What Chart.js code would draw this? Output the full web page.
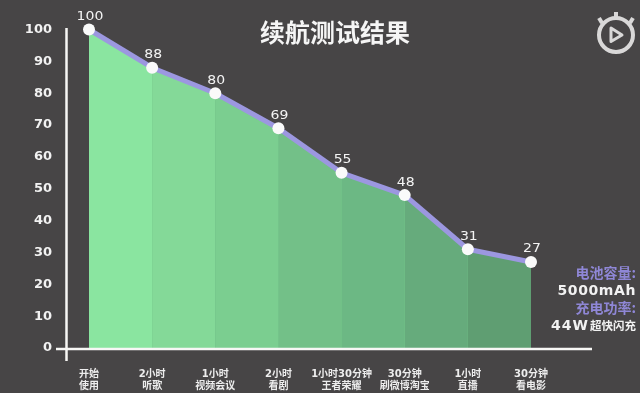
<!DOCTYPE html>
<html>
<head>
<meta charset="utf-8">
<style>html,body{margin:0;padding:0;background:#474546}canvas{display:block}</style>
<script src="https://cdn.jsdelivr.net/npm/chart.js@4"></script>
</head>
<body>
<canvas id="c" width="640" height="393"></canvas>
<script>
const titleText = '续航测试结果';
const categories = [['开始','使用'],['2小时','听歌'],['1小时','视频会议'],['2小时','看剧'],['1小时30分钟','王者荣耀'],['30分钟','刷微博淘宝'],['1小时','直播'],['30分钟','看电影']];
const batteryPercent = [100,88,80,69,55,48,31,27];
const segmentColors = ['#8AE5A0','#84D998','#7BCE90','#73C088','#6CB884','#66AB7C','#5F9E72','#5A9569'];
const BG='#474546', AXIS='#F7F7F5', PURPLE='#9C97E0', NOTE='#8F87D6', NOTE2='#F2F2F2';
const WIDE='"DejaVu Sans","Noto Sans CJK SC",sans-serif';
const CJK='"Noto Sans CJK SC",sans-serif';

const decor = {
  id:'decor',
  beforeDraw(chart){
    const {ctx,width,height}=chart;
    ctx.save();ctx.fillStyle=BG;ctx.fillRect(0,0,width,height);ctx.restore();
  },
  afterDatasetsDraw(chart){
    const {ctx,scales:{x,y}}=chart;
    ctx.save();
    ctx.strokeStyle=AXIS;ctx.lineWidth=2.5;
    const y0=y.getPixelForValue(0), x0=x.getPixelForTick(0);
    ctx.beginPath();ctx.moveTo(x0-22.5,y.getPixelForValue(100)-1.5);ctx.lineTo(x0-22.5,y0+13);ctx.stroke();
    ctx.beginPath();ctx.moveTo(x0-33,y0+1);ctx.lineTo(x.getPixelForTick(7)+61,y0+1);ctx.stroke();
    const meta=chart.getDatasetMeta(1);
    ctx.fillStyle='#F4F4F4';ctx.font='11.5px '+WIDE;ctx.textAlign='center';ctx.textBaseline='middle';
    meta.data.forEach((p,i)=>{
      ctx.save();
      ctx.translate(p.x+1,p.y-12.5);
      ctx.scale(1.22,1);
      ctx.fillText(String(batteryPercent[i]),0,0);
      ctx.restore();
    });
    // title
    ctx.fillStyle='#F5F5F5';ctx.font='bold 25px '+CJK;
    ctx.fillText(titleText,335,32);
    // side notes
    ctx.textAlign='right';
    ctx.fillStyle=NOTE;ctx.font='bold 14px '+CJK;
    ctx.fillText('电池容量:',636,273);
    ctx.fillText('充电功率:',636,308);
    ctx.fillStyle=NOTE2;ctx.font='bold 14px '+WIDE;ctx.letterSpacing='0.6px';
    ctx.fillText('5000mAh',636,291);
    ctx.letterSpacing='0px';
    ctx.font='bold 11.5px '+CJK;
    ctx.fillText('超快闪充',636,326);
    ctx.font='bold 14px '+WIDE;ctx.letterSpacing='1px';
    ctx.fillText('44W',589,326);
    ctx.letterSpacing='0px';
    // stopwatch icon
    ctx.strokeStyle='#D9D8D8';ctx.lineWidth=4;
    ctx.beginPath();ctx.arc(616,35,17,0,Math.PI*2);ctx.stroke();
    ctx.beginPath();ctx.moveTo(616,17);ctx.lineTo(616,12);ctx.stroke();
    ctx.beginPath();ctx.moveTo(602,23);ctx.lineTo(599,18);ctx.stroke();
    ctx.beginPath();ctx.moveTo(630,23);ctx.lineTo(633,18);ctx.stroke();
    ctx.lineJoin='round';ctx.lineWidth=3;
    ctx.beginPath();ctx.moveTo(611,28);ctx.lineTo(611,41.5);ctx.lineTo(622,35);ctx.closePath();ctx.stroke();
    ctx.restore();
  }
};

new Chart(document.getElementById('c'),{
  type:'line',
  data:{labels:categories,datasets:[
  {
    // solid green under-layer so no seams show between the shaded bands
    data:batteryPercent,order:2,
    borderWidth:0,showLine:true,pointRadius:0,tension:0,clip:false,
    backgroundColor:'#74C48A',fill:'origin'
  },
  {
    data:batteryPercent,order:1,
    borderColor:PURPLE,borderWidth:5,tension:0,
    backgroundColor:segmentColors[0],
    fill:'origin',clip:false,
    pointRadius:6,pointHoverRadius:6,pointBackgroundColor:'#FAFAFA',pointBorderWidth:0,
    segment:{backgroundColor:c=>segmentColors[c.p0DataIndex]}
  }]},
  plugins:[decor],
  options:{
    responsive:false,animation:false,
    layout:{padding:{left:0,right:109,top:29.5,bottom:0}},
    plugins:{legend:{display:false},tooltip:{enabled:false},title:{display:false}},
    scales:{
      x:{type:'category',offset:false,grid:{display:false},border:{display:false},
        afterFit(s){s.height=45;s.paddingLeft=0;s.paddingRight=0;},
        ticks:{color:'#EDEDED',autoSkip:false,maxRotation:0,minRotation:0,padding:12,
          font:{family:WIDE,size:10,weight:'bold',lineHeight:1.2}}},
      y:{min:0,max:100,grid:{display:false},border:{display:false},
        afterFit(s){s.width=89;s.paddingTop=0;s.paddingBottom=0;},
        ticks:{stepSize:10,color:'#F2F2F2',padding:29,
          font:{family:WIDE,size:13,weight:'bold'}}}
    }
  }
});
</script>
</body>
</html>
